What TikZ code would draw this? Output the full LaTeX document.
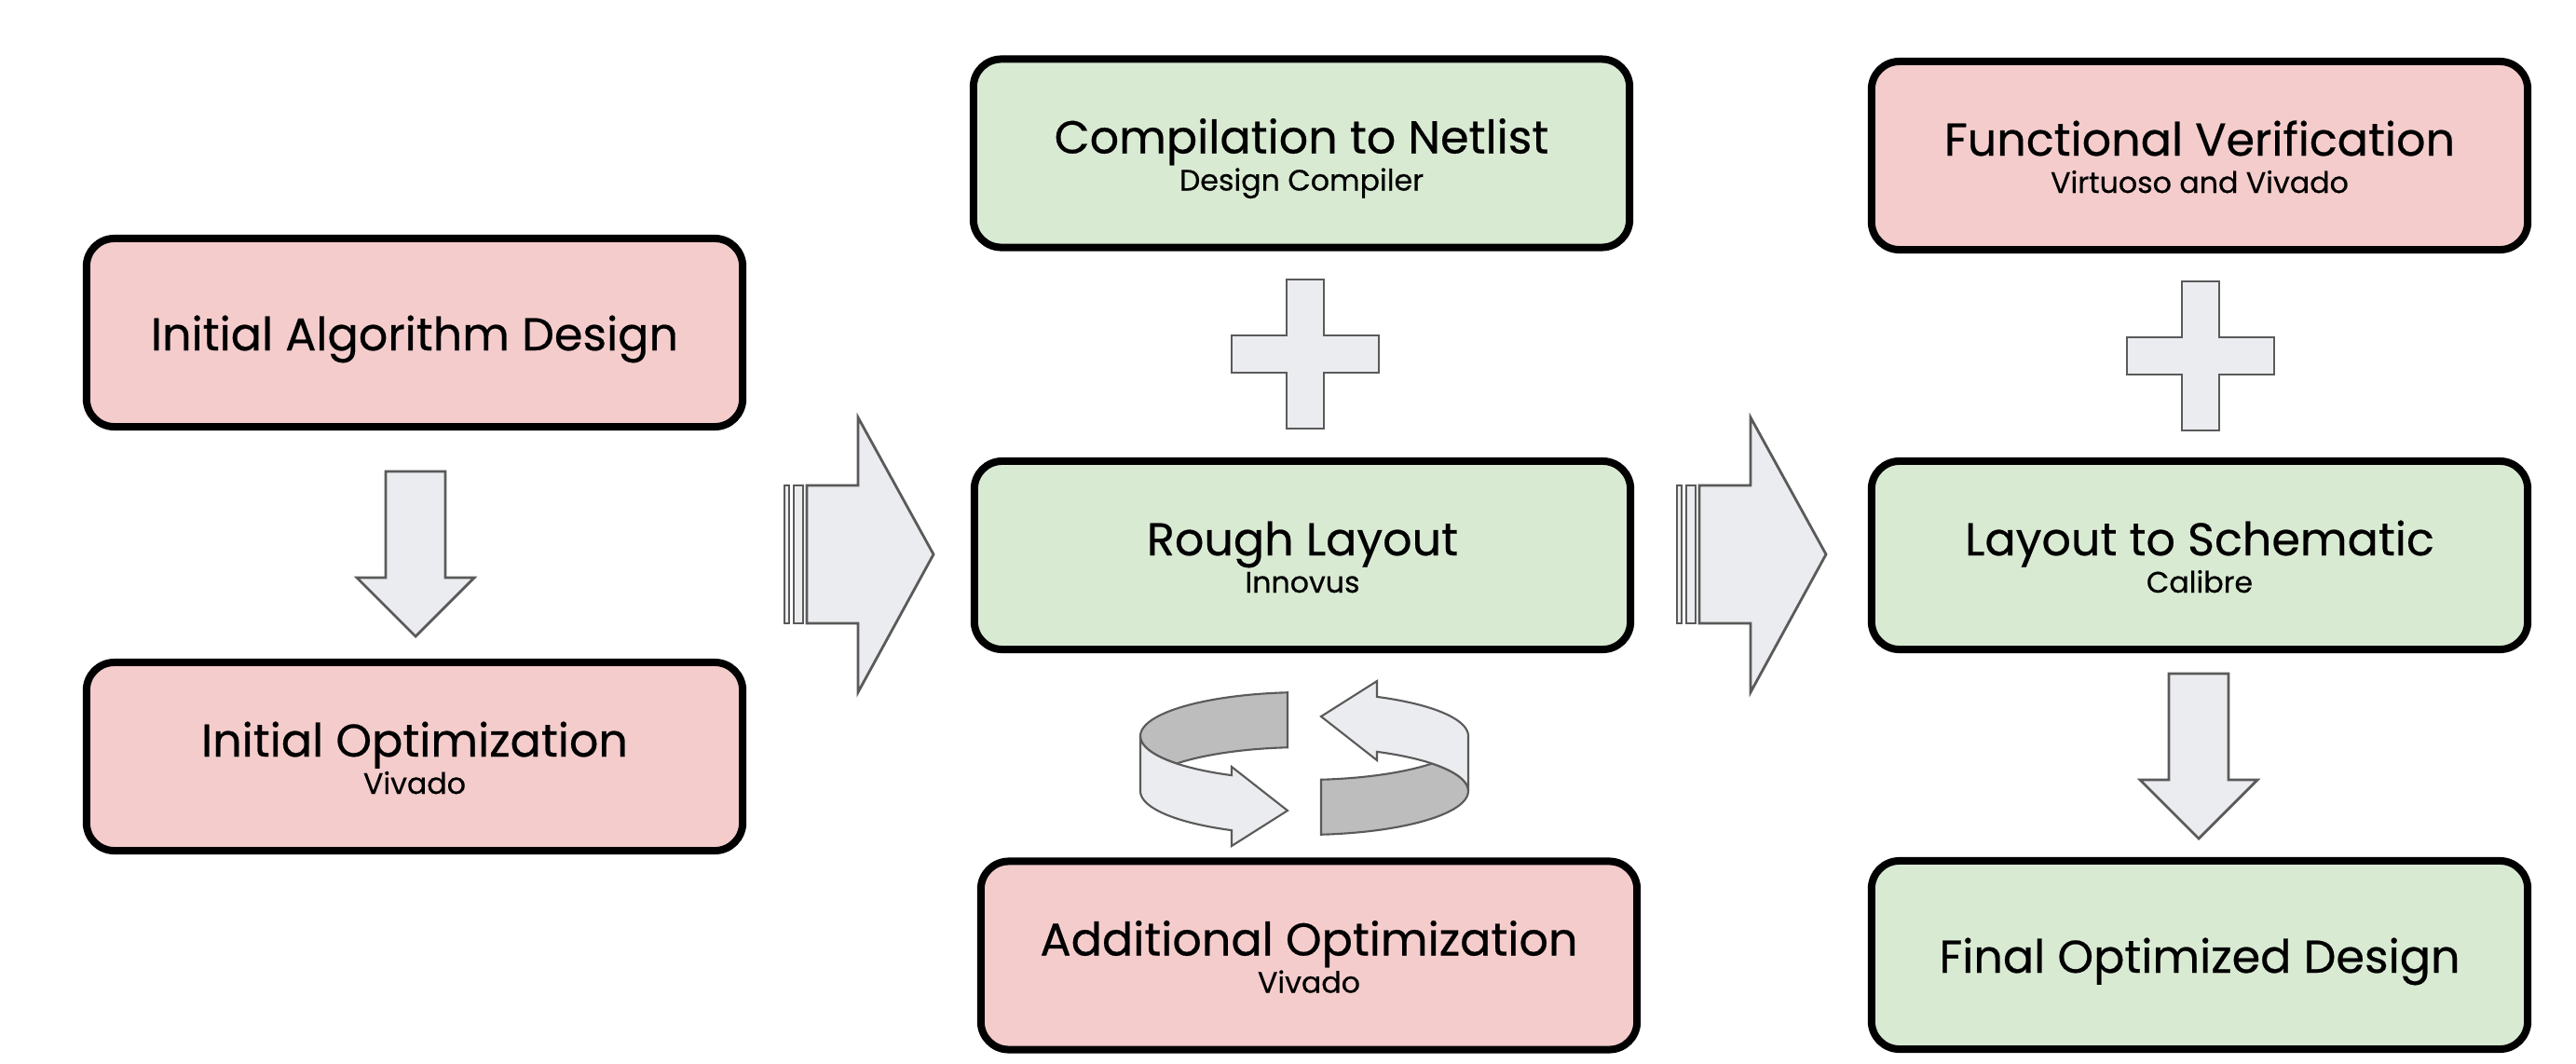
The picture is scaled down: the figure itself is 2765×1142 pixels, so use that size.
\documentclass[tikz,border=0pt]{standalone}
\usepackage{fontspec}
\setmainfont{Poppins}
\newfontfamily\stagefont{Poppins}[FakeBold=0.5]
\usetikzlibrary{calc}
\definecolor{pinkbox}{HTML}{F4CCCC}
\definecolor{greenbox}{HTML}{D9EAD3}
\definecolor{arrowfill}{HTML}{EBECEF}
\definecolor{arrowline}{HTML}{5A5A5A}
\definecolor{darkband}{HTML}{BDBDBD}
\begin{document}
\begin{tikzpicture}[x=0.01cm,y=-0.01cm,
  stagebox/.style={draw=black, line width=0.08cm, rounded corners=0.3cm, minimum width=7.04cm, minimum height=2.02cm, inner sep=0pt},
  pinkstage/.style={stagebox, fill=pinkbox},
  greenstage/.style={stagebox, fill=greenbox},
  maintext/.style={font=\stagefont\fontsize{14}{16}\selectfont, anchor=base, inner sep=0pt},
  subtext/.style={font=\stagefont\fontsize{9}{11}\selectfont, anchor=base, inner sep=0pt},
  shape3d/.style={draw=arrowline, line width=0.8pt, fill=arrowfill, line join=miter},
  plussign/.pic={\draw[shape3d] (-20,-80) -- (20,-80) -- (20,-20) -- (79,-20) -- (79,20) -- (20,20) -- (20,80) -- (-20,80) -- (-20,20) -- (-79,20) -- (-79,-20) -- (-20,-20) -- cycle;},
  downblock/.pic={\draw[shape3d] (-32,0) -- (32,0) -- (32,114) -- (63,114) -- (0,177) -- (-63,114) -- (-32,114) -- cycle;},
  rightblock/.pic={
    \draw[shape3d] (-24,-74) rectangle (-19,74);
    \draw[shape3d] (-14,-74) rectangle (-4,74);
    \draw[shape3d] (0,-74) -- (55,-74) -- (55,-147) -- (136,0) -- (55,148) -- (55,74) -- (0,74) -- cycle;},
  halfring/.style={draw=arrowline, line width=0.6pt, line join=miter},
]
\useasboundingbox (0,0) rectangle (2765,1142);
\fill[white] (0,0) rectangle (2765,1142);

% stage boxes
\node[pinkstage] (iad) at (445,357) {};
\node[maintext] (iadt) at ($(iad.center)+(0,19)$) {Initial Algorithm Design};

\node[pinkstage] (io) at (445,812) {};
\node[maintext] (iot) at ($(io.center)+(0,0)$) {Initial Optimization};
\node[subtext] (ios) at ($(io.center)+(0,40)$) {Vivado};

\node[greenstage] (ctn) at (1397,164.5) {};
\node[maintext] (ctnt) at ($(ctn.center)+(0,0)$) {Compilation to Netlist};
\node[subtext] (ctns) at ($(ctn.center)+(0,40)$) {Design Compiler};

\node[greenstage] (rl) at (1398,596) {};
\node[maintext] (rlt) at ($(rl.center)+(0,0)$) {Rough Layout};
\node[subtext] (rls) at ($(rl.center)+(0,40)$) {Innovus};

\node[pinkstage] (ao) at (1405,1025.5) {};
\node[maintext] (aot) at ($(ao.center)+(0,0)$) {Additional Optimization};
\node[subtext] (aos) at ($(ao.center)+(0,40)$) {Vivado};

\node[pinkstage] (fv) at (2361,167) {};
\node[maintext] (fvt) at ($(fv.center)+(0,0)$) {Functional Verification};
\node[subtext] (fvs) at ($(fv.center)+(0,40)$) {Virtuoso and Vivado};

\node[greenstage] (lts) at (2361,596) {};
\node[maintext] (ltst) at ($(lts.center)+(0,0)$) {Layout to Schematic};
\node[subtext] (ltss) at ($(lts.center)+(0,40)$) {Calibre};

\node[greenstage] (fod) at (2361,1025) {};
\node[maintext] (fodt) at ($(fod.center)+(0,19)$) {Final Optimized Design};

% block arrows and plus signs
\pic at (446,506) {downblock};
\pic at (2360,723) {downblock};
\pic at (866,595) {rightblock};
\pic at (1824,595) {rightblock};
\pic at (1401,380) {plussign};
\pic at (2362,382) {plussign};

% circular arrows
\begin{scope}[shift={(1400,819.5)}]
  \foreach \r in {0,180}{
    \begin{scope}[rotate=\r]
      \filldraw[halfring, fill=darkband]
        plot[domain=95.87:218.9, samples=40] ({176*cos(\x)}, {-29.5-47*sin(\x)})
        -- plot[domain=141.1:95.87, samples=30] ({176*cos(\x)}, {29.5-47*sin(\x)})
        -- cycle;
      \filldraw[halfring, fill=arrowfill]
        plot[domain=180:243.7, samples=30] ({176*cos(\x)}, {-29.5-47*sin(\x)})
        -- (-78,3.5) -- (-18,50.5) -- (-78,88.5)
        -- plot[domain=243.7:180, samples=30] ({176*cos(\x)}, {29.5-47*sin(\x)})
        -- cycle;
    \end{scope}
  }
\end{scope}
\end{tikzpicture}
\end{document}
